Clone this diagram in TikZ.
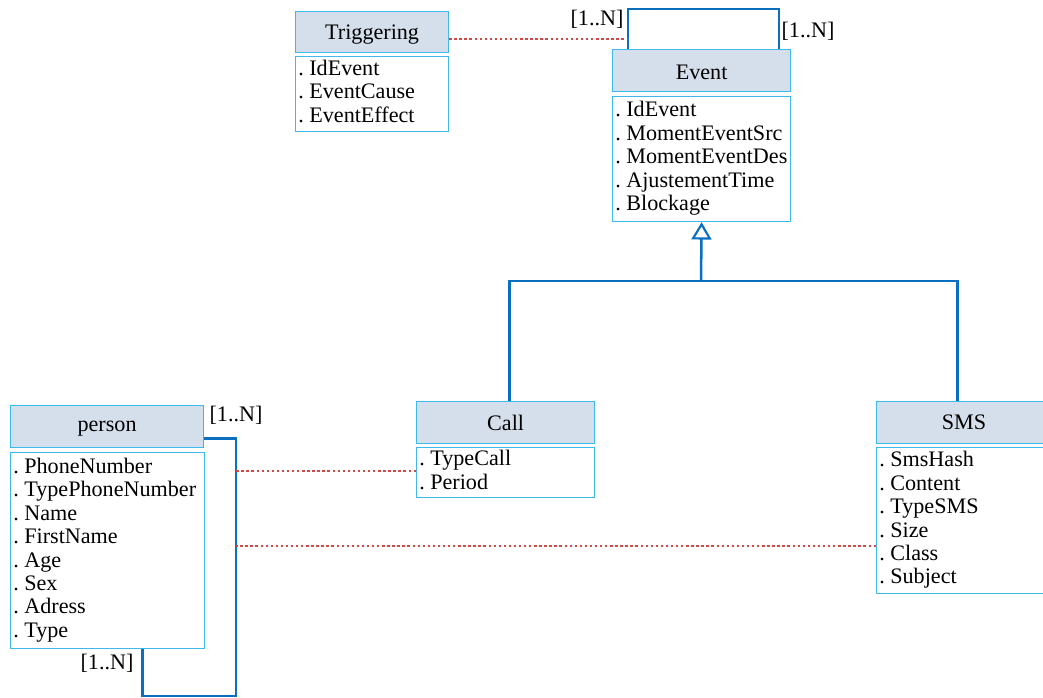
\documentclass[tikz,border=0pt]{standalone}
\usepackage{fontspec}
\setmainfont{Liberation Serif}
\usetikzlibrary{arrows.meta,calc}
\definecolor{hdrfill}{HTML}{D5DFEC}
\definecolor{boxline}{HTML}{3CB9EE}
\definecolor{connblue}{HTML}{0B6FBF}
\definecolor{depred}{HTML}{D24A46}
\frenchspacing
\newcommand{\attrbox}[2]{\makebox[#1][l]{\begin{tabular}{@{}l@{}}#2\end{tabular}}}
\begin{document}
\begin{tikzpicture}[x=0.75pt,y=-0.75pt,
  every node/.style={font=\fontsize{16.6}{17.6}\selectfont},
  hdr/.style={draw=boxline, fill=hdrfill, line width=0.9pt, anchor=north west, inner sep=0pt, text depth=0pt},
  body/.style={draw=boxline, fill=white, line width=0.9pt, anchor=north west, inner xsep=2pt, inner ysep=0pt},
  conn/.style={draw=connblue, line width=1.9pt},
  dep/.style={draw=depred, line width=1.4pt, dash pattern=on 1.8pt off 2pt},
  mult/.style={inner sep=0pt}
]
\useasboundingbox (0,0) rectangle (1043,698);

% Triggering
\node[hdr, minimum width=114.75pt, minimum height=30.75pt] (trigH) at (295,11) {Triggering};
\node[body, minimum height=56.25pt] (trigB) at (295,56)
  {\attrbox{110.75pt}{. IdEvent\\. EventCause\\. EventEffect}};

% Event
\node[hdr, minimum width=133.5pt, minimum height=31.5pt] (evH) at (612,49) {\raisebox{-2pt}{Event}};
\node[body, minimum height=93.75pt] (evB) at (612,96)
  {\attrbox{129.5pt}{. IdEvent\\. MomentEventSrc\\. MomentEventDes\\. AjustementTime\\. Blockage}};

% Call
\node[hdr, minimum width=133.5pt, minimum height=31.5pt] (callH) at (416,401) {Call};
\node[body, minimum height=37.5pt] (callB) at (416,447)
  {\attrbox{129.5pt}{. TypeCall\\. Period}};

% SMS
\node[hdr, minimum width=135pt, minimum height=31.5pt, text width=126pt, align=center] (smsH) at (876,401) {\hspace*{-4pt}SMS};
\node[body, minimum height=109.5pt] (smsB) at (876,447)
  {\attrbox{131pt}{. SmsHash\\. Content\\. TypeSMS\\. Size\\. Class\\. Subject}};

% person
\node[hdr, minimum width=144.75pt, minimum height=31.5pt] (perH) at (10,405) {person};
\node[body, minimum height=147pt] (perB) at (10,452)
  {\attrbox{141.5pt}{. PhoneNumber\\. TypePhoneNumber\\. Name\\. FirstName\\. Age\\. Sex\\. Adress\\. Type}};

% Event self loop
\coordinate (evL) at ($(evH.north west)+(16,0)$);
\coordinate (evR) at ($(evH.north east)+(-12,0)$);
\draw[conn] (evL) -- ($(evL)+(0,-40)$) -| (evR);
\node[mult] (m1) at (597,19) {[1..N]};
\node[mult] (m2) at (808,31) {[1..N]};

% Triggering -- Event loop
\coordinate (tA) at ([yshift=-5.25pt]trigH.east);
\draw[dep] (tA) -- (tA -| evL);

% Inheritance
\coordinate (split) at (701,281);
\draw[conn] ([xshift=3pt]callH.north) |- (split) -| ([xshift=-6.75pt]smsH.north);
\draw[conn, -{Triangle[open, length=13pt, width=15pt, line width=1.6pt]}] (split) -- (evB.south);

% person self loop
\coordinate (pA) at ([yshift=-9pt]perH.east);
\coordinate (pR) at ($(pA)+(32,0)$);
\coordinate (pB) at ([xshift=26.25pt]perB.south);
\draw[conn] (pA) -- (pR) -- (pR |- 0,696) -| (pB);
\node[mult] (m3) at (236,415) {[1..N]};
\node[mult] (m4) at (107,663) {[1..N]};

% person -- Call, person -- SMS
\draw[dep] ([yshift=1.5pt]callB.west) -- ([yshift=1.5pt]callB.west -| pR);
\coordinate (sA) at ([yshift=-18.75pt]smsB.west);
\draw[dep] (sA) -- (sA -| pR);
\end{tikzpicture}
\end{document}
